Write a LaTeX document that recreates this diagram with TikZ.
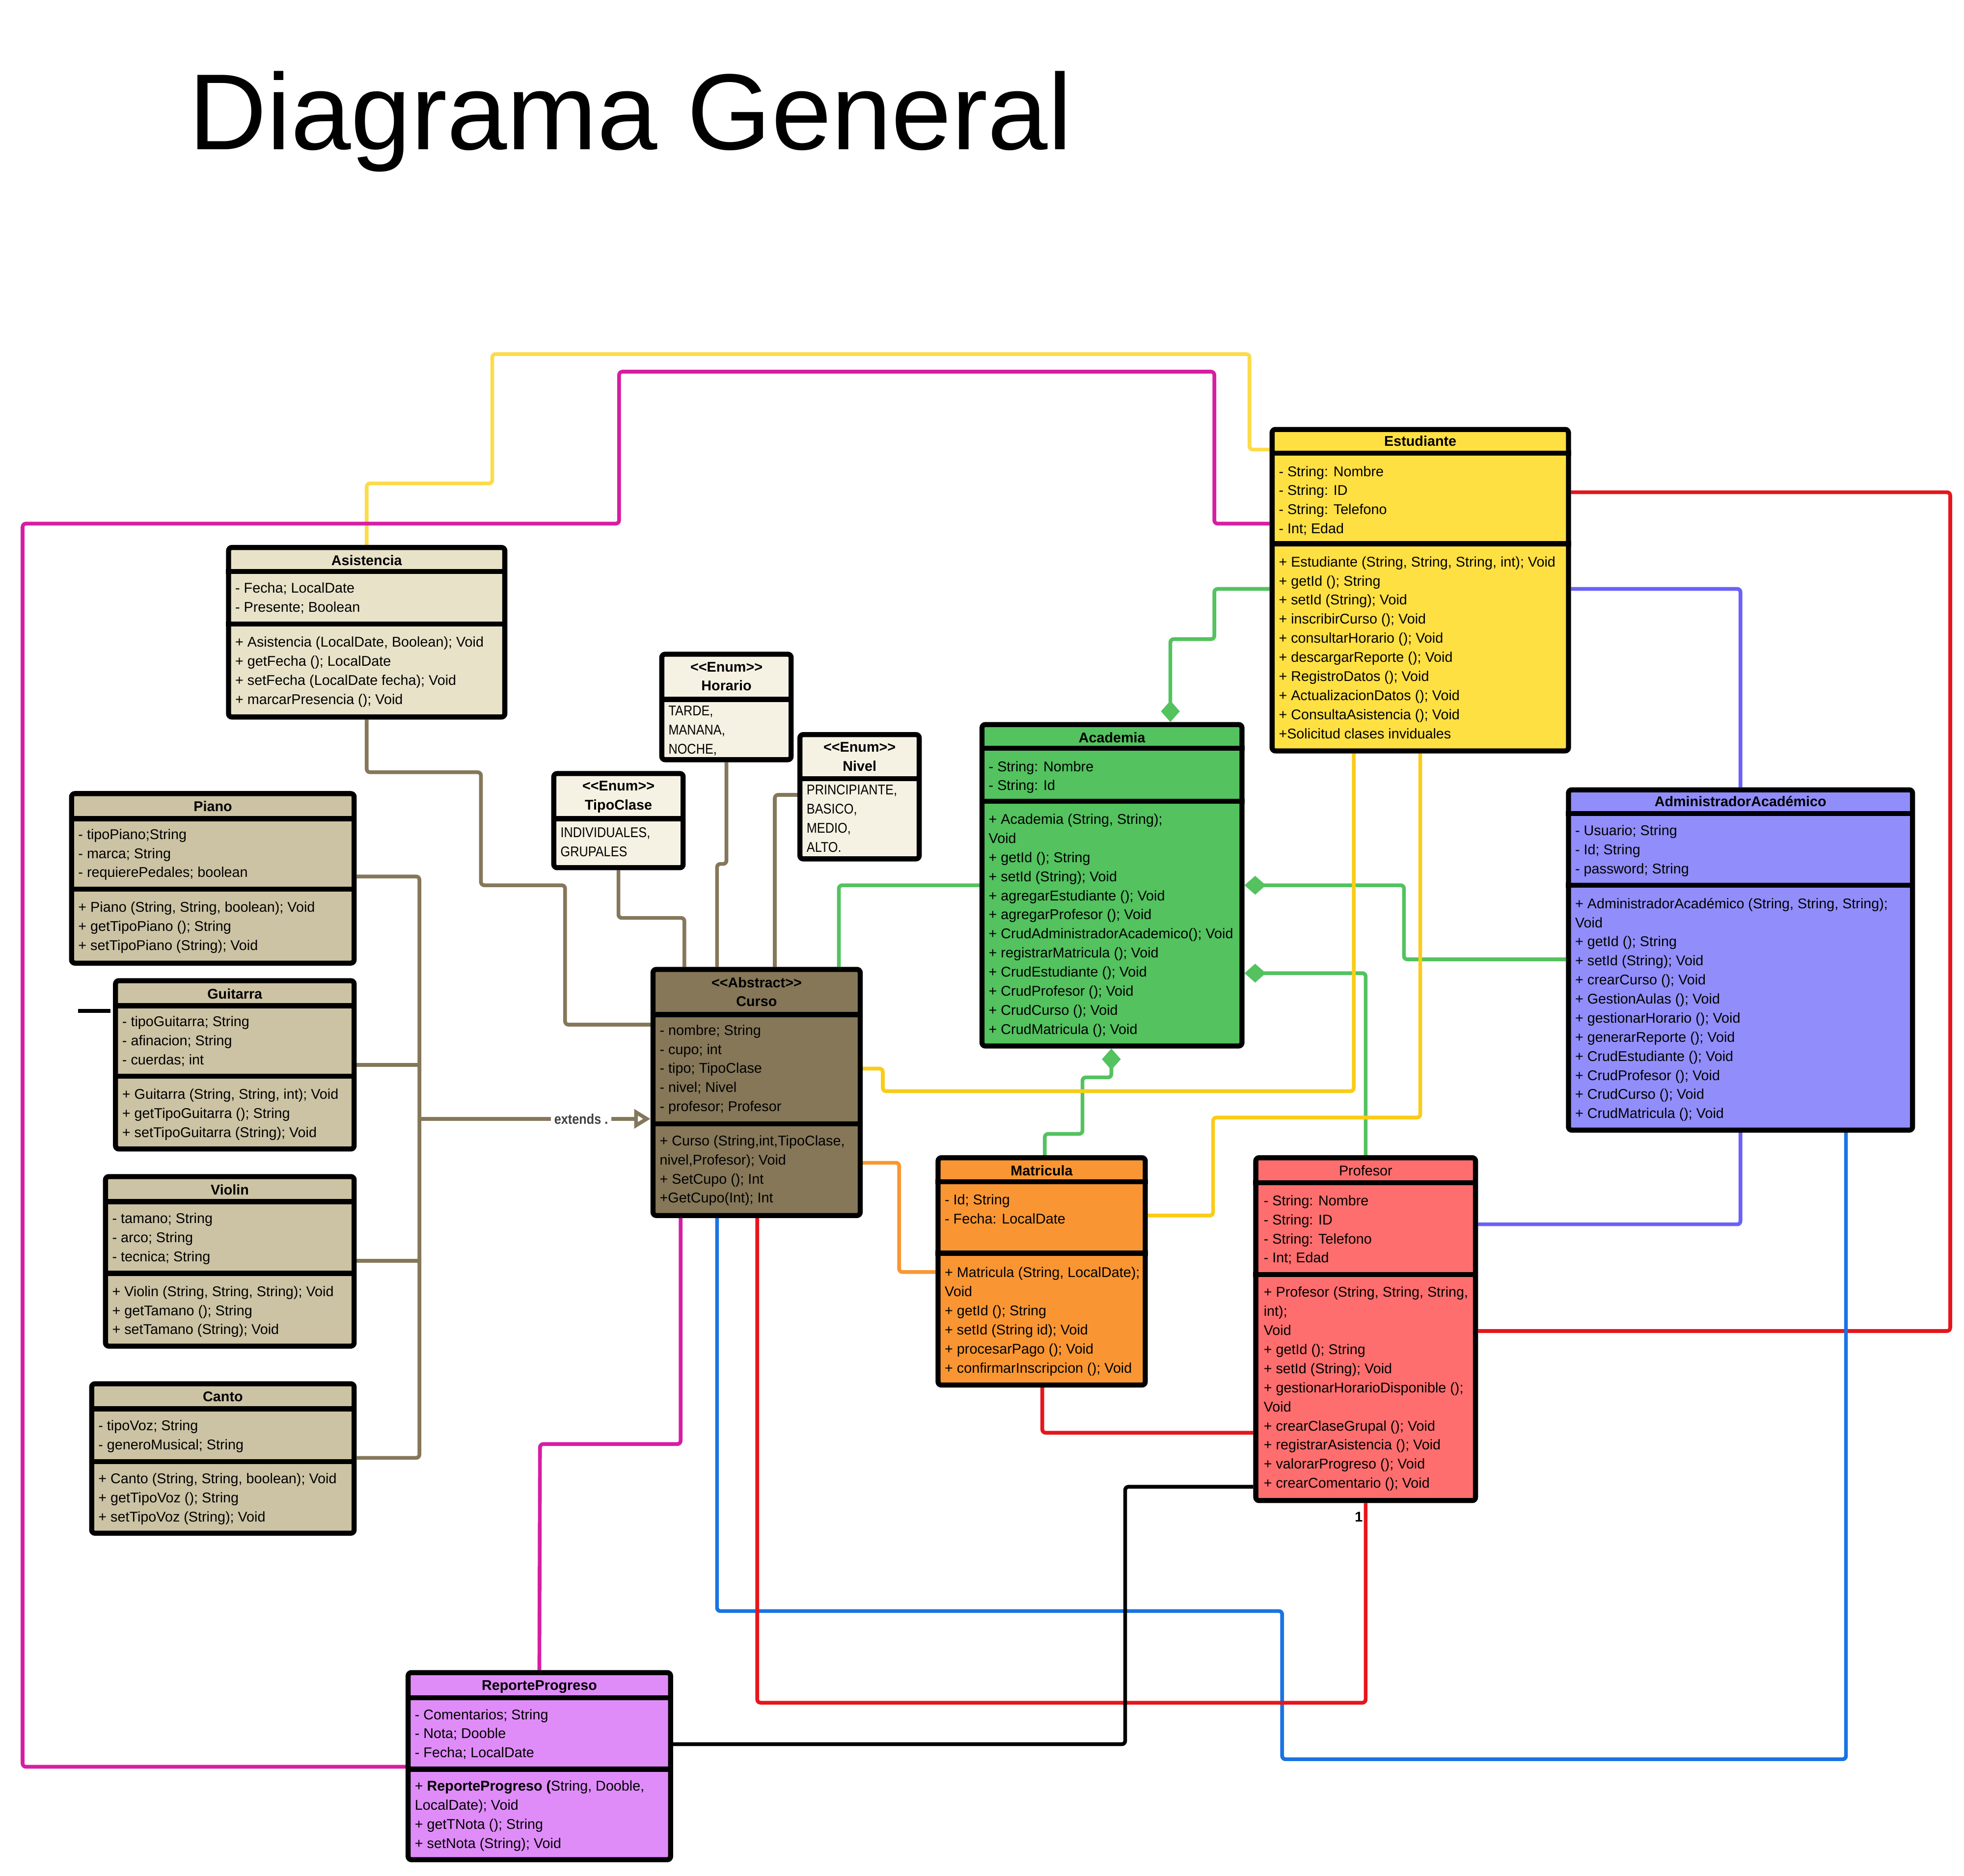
\documentclass[tikz,border=0pt]{standalone}
\usepackage{fontspec}
\setmainfont{Liberation Sans}
\newfontfamily\narrowfont[FakeStretch=0.88]{Liberation Sans}
\usetikzlibrary{arrows.meta,fit,backgrounds}

\definecolor{estuyellow}{HTML}{FFE043}
\definecolor{acadgreen}{HTML}{53C25F}
\definecolor{admviolet}{HTML}{918EFB}
\definecolor{profred}{HTML}{FE6E6E}
\definecolor{matorange}{HTML}{F99633}
\definecolor{cursobrown}{HTML}{857758}
\definecolor{asisbeige}{HTML}{E8E2C9}
\definecolor{enumcream}{HTML}{F6F2E3}
\definecolor{instrtan}{HTML}{CCC3A4}
\definecolor{reppink}{HTML}{DF8CF8}
\definecolor{paleyellow}{HTML}{FBDB4A}
\definecolor{goldyellow}{HTML}{FACC18}
\definecolor{linemagenta}{HTML}{D61EA3}
\definecolor{linered}{HTML}{E5161B}
\definecolor{lineviolet}{HTML}{6A62F8}
\definecolor{lineblue}{HTML}{1A73E3}
\definecolor{linebrown}{HTML}{85775A}

\newcommand{\classfont}{\fontsize{6.4}{8.65}\selectfont}
\newcommand{\stereo}[1]{{<}{<}#1{>}{>}}
\newcommand{\umlbox}[7]{%
  \node[classbox, fill=#2, fit={(#3) (#4)}] (#1) {};
  \foreach \s in {#5} \draw[classline] (#1.west |- 0,\s) -- (#1.east |- 0,\s);
  \node[ctitle] at (#1.north |- 0,#6) {#7};
}

\tikzset{
  classbox/.style={draw, line width=2.3pt, rounded corners=1.5pt, inner sep=0pt},
  classline/.style={line width=2.3pt},
  ctitle/.style={font=\classfont\bfseries, align=center, anchor=north, inner sep=0pt},
  members/.style={font=\classfont, align=left, anchor=north west, inner sep=0pt},
  enumvals/.style={members, font=\narrowfont\classfont},
  conn/.style={line width=1.7pt, rounded corners=1.5pt},
  comp/.style={conn, acadgreen, -{Diamond[length=0.34cm,width=0.3cm]}},
  extends/.style={conn, linebrown, -{Triangle[open,length=0.26cm,width=0.3cm]}},
}

\begin{document}
\begin{tikzpicture}[x=0.02cm, y=-0.02cm]
\useasboundingbox (0,0) rectangle (1564,1493.7);

\node[font=\fontsize{49}{55}\selectfont, anchor=base west, inner sep=0pt] (title) at (150,119) {Diagrama General};

\umlbox{est}{estuyellow}{1013,342}{1249,598}{361,433}{346.8}{Estudiante}
\node[members] at (1018,370.8) {- String: Nombre\\- String: ID\\- String: Telefono\\- Int; Edad};
\node[members] at (1018,442.8) {+ Estudiante (String, String, String, int); Void\\+ getId (); String\\+ setId (String); Void\\+ inscribirCurso (); Void\\+ consultarHorario (); Void\\+ descargarReporte (); Void\\+ RegistroDatos (); Void\\+ ActualizacionDatos (); Void\\+ ConsultaAsistencia (); Void\\+Solicitud clases inviduales};

\umlbox{acad}{acadgreen}{782,577}{989,833}{596,638}{582.8}{Academia}
\node[members] at (787,605.8) {- String: Nombre\\- String: Id};
\node[members] at (787,647.8) {+ Academia (String, String);\\Void\\+ getId (); String\\+ setId (String); Void\\+ agregarEstudiante (); Void\\+ agregarProfesor (); Void\\+ CrudAdministradorAcademico(); Void\\+ registrarMatricula (); Void\\+ CrudEstudiante (); Void\\+ CrudProfesor (); Void\\+ CrudCurso (); Void\\+ CrudMatricula (); Void};

\umlbox{adm}{admviolet}{1249,629}{1523,900}{648,705}{633.8}{AdministradorAcadémico}
\node[members] at (1254,656.8) {- Usuario; String\\- Id; String\\- password; String};
\node[members] at (1254,714.8) {+ AdministradorAcadémico (String, String, String);\\Void\\+ getId (); String\\+ setId (String); Void\\+ crearCurso (); Void\\+ GestionAulas (); Void\\+ gestionarHorario (); Void\\+ generarReporte (); Void\\+ CrudEstudiante (); Void\\+ CrudProfesor (); Void\\+ CrudCurso (); Void\\+ CrudMatricula (); Void};

\umlbox{prof}{profred}{1000,922}{1175,1195}{942,1015}{927.8}{\mdseries Profesor}
\node[members] at (1006,951.5) {- String: Nombre\\- String: ID\\- String: Telefono\\- Int; Edad};
\node[members] at (1006,1024.5) {+ Profesor (String, String, String,\\int);\\Void\\+ getId (); String\\+ setId (String); Void\\+ gestionarHorarioDisponible ();\\Void\\+ crearClaseGrupal (); Void\\+ registrarAsistencia (); Void\\+ valorarProgreso (); Void\\+ crearComentario (); Void};
\node[font=\classfont\bfseries, inner sep=0pt] (one) at (1082,1208) {1};

\umlbox{mat}{matorange}{747,922}{912,1103}{941,998}{927.8}{Matricula}
\node[members] at (752,950.8) {- Id; String\\- Fecha: LocalDate};
\node[members] at (752,1008.8) {+ Matricula (String, LocalDate);\\Void\\+ getId (); String\\+ setId (String id); Void\\+ procesarPago (); Void\\+ confirmarInscripcion (); Void};

\umlbox{curso}{cursobrown}{520,772}{685,968}{808,895}{777.8}{\stereo{Abstract}\\Curso}
\node[members] at (525,815.8) {- nombre; String\\- cupo; int\\- tipo; TipoClase\\- nivel; Nivel\\- profesor; Profesor};
\node[members] at (525,903.8) {+ Curso (String,int,TipoClase,\\nivel,Profesor); Void\\+ SetCupo (); Int\\+GetCupo(Int); Int};

\umlbox{asis}{asisbeige}{182,436}{402,571}{455,497}{441.8}{Asistencia}
\node[members] at (187,463.8) {- Fecha; LocalDate\\- Presente; Boolean};
\node[members] at (187,506.8) {+ Asistencia (LocalDate, Boolean); Void\\+ getFecha (); LocalDate\\+ setFecha (LocalDate fecha); Void\\+ marcarPresencia (); Void};

\umlbox{hor}{enumcream}{527,521}{630,605}{557}{526.8}{\stereo{Enum}\\Horario}
\node[enumvals] at (532,561.8) {TARDE,\\MANANA,\\NOCHE,};
\umlbox{tipo}{enumcream}{441,616}{544,691}{652}{621.8}{\stereo{Enum}\\TipoClase}
\node[enumvals] at (446,658.8) {INDIVIDUALES,\\GRUPALES};
\umlbox{niv}{enumcream}{637,585}{732,684}{620}{590.8}{\stereo{Enum}\\Nivel}
\node[enumvals] at (642,624.8) {PRINCIPIANTE,\\BASICO,\\MEDIO,\\ALTO.};

\umlbox{piano}{instrtan}{57,632}{282,767}{652,708}{637.8}{Piano}
\node[members] at (62,659.8) {- tipoPiano;String\\- marca; String\\- requierePedales; boolean};
\node[members] at (62,717.8) {+ Piano (String, String, boolean); Void\\+ getTipoPiano (); String\\+ setTipoPiano (String); Void};

\umlbox{guit}{instrtan}{92,781}{282,915}{801,857}{786.8}{Guitarra}
\node[members] at (97,808.8) {- tipoGuitarra; String\\- afinacion; String\\- cuerdas; int};
\node[members] at (97,866.8) {+ Guitarra (String, String, int); Void\\+ getTipoGuitarra (); String\\+ setTipoGuitarra (String); Void};

\umlbox{violin}{instrtan}{84,937}{282,1072}{957,1014}{942.8}{Violin}
\node[members] at (89,965.8) {- tamano; String\\- arco; String\\- tecnica; String};
\node[members] at (89,1023.8) {+ Violin (String, String, String); Void\\+ getTamano (); String\\+ setTamano (String); Void};

\umlbox{canto}{instrtan}{73,1102}{282,1221}{1122,1164}{1107.8}{Canto}
\node[members] at (78,1130.8) {- tipoVoz; String\\- generoMusical; String};
\node[members] at (78,1172.8) {+ Canto (String, String, boolean); Void\\+ getTipoVoz (); String\\+ setTipoVoz (String); Void};

\umlbox{rep}{reppink}{325,1332}{534,1481}{1352,1409}{1337.8}{ReporteProgreso}
\node[members] at (330,1360.8) {- Comentarios; String\\- Nota; Dooble\\- Fecha; LocalDate};
\node[members] at (330,1417.8) {+ \textbf{ReporteProgreso (}String, Dooble,\\LocalDate); Void\\+ getTNota (); String\\+ setNota (String); Void};

\coordinate (trunk) at (334,891);

\begin{scope}[on background layer]
\draw[conn, paleyellow] (asis.north) |- (392,385) |- (995,282) |- (est.west |- 0,358);
\draw[conn, linemagenta] (est.west |- 0,417) -| (967,296) -| (493,417) -| (18,1407) -- (rep.west |- 0,1407);
\draw[conn, linered] (est.east |- 0,392) -| (1553,1060) -- (prof.east |- 0,1060);
\draw[conn, lineviolet] (est.east |- 0,469) -| (adm.north);
\draw[comp] (est.west |- 0,469) -| (967,509) -| (932,0 |- acad.north);
\draw[conn, acadgreen] (668,0 |- curso.north) |- (acad.west |- 0,705);
\draw[comp] (adm.west |- 0,764) -| (1118,705) -- (acad.east |- 0,705);
\draw[comp] (prof.north) |- (acad.east |- 0,775);
\draw[comp] (832,0 |- mat.north) |- (862,903) -- (862,858) -| (885,0 |- acad.south);
\draw[conn, goldyellow] (curso.east |- 0,851) -| (703,869) -| (1078,0 |- est.south);
\draw[conn, goldyellow] (mat.east |- 0,968) -| (966,890) -| (1131,0 |- est.south);
\draw[conn, lineviolet] (prof.east |- 0,975) -| (adm.south);
\draw[conn, lineblue] (1470,0 |- adm.south) |- (1021,1401) |- (571,1283) -- (571,0 |- curso.south);
\draw[conn, linered] (603,0 |- curso.south) |- (prof.south |- 0,1356) -- (prof.south);
\draw[conn, linered] (830,0 |- mat.south) |- (prof.west |- 0,1141);
\draw[conn, black] (rep.east |- 0,1389) -| (896,1184) -- (prof.west |- 0,1184);
\draw[conn, linemagenta] (542,0 |- curso.south) |- (430,1150) -- (rep.north);
\draw[conn, matorange] (curso.east |- 0,926) -| (716,1013) -- (mat.west |- 0,1013);
\draw[conn, linebrown] (asis.south) |- (383,615) |- (450,705) |- (curso.west |- 0,816);
\draw[conn, linebrown] (tipo.south) |- (545,731) -- (545,0 |- curso.north);
\draw[conn, linebrown] (hor.south) |- (571,688) -- (571,0 |- curso.north);
\draw[conn, linebrown] (niv.west |- 0,633) -| (617,0 |- curso.north);
\draw[conn, linebrown] (piano.east |- 0,698) -| (trunk |- 0,1161) -- (canto.east |- 0,1161);
\draw[conn, linebrown] (guit.east |- 0,848) -- (trunk |- 0,848);
\draw[conn, linebrown] (violin.east |- 0,1004) -- (trunk |- 0,1004);
\draw[extends] (trunk) -- (curso.west |- 0,891) node[pos=0.7, fill=white, inner sep=1.5pt, text=black!75, font=\narrowfont\classfont\bfseries] {extends .};
\draw[conn, black] (62,805) -- (88,805);
\end{scope}
\end{tikzpicture}
\end{document}
